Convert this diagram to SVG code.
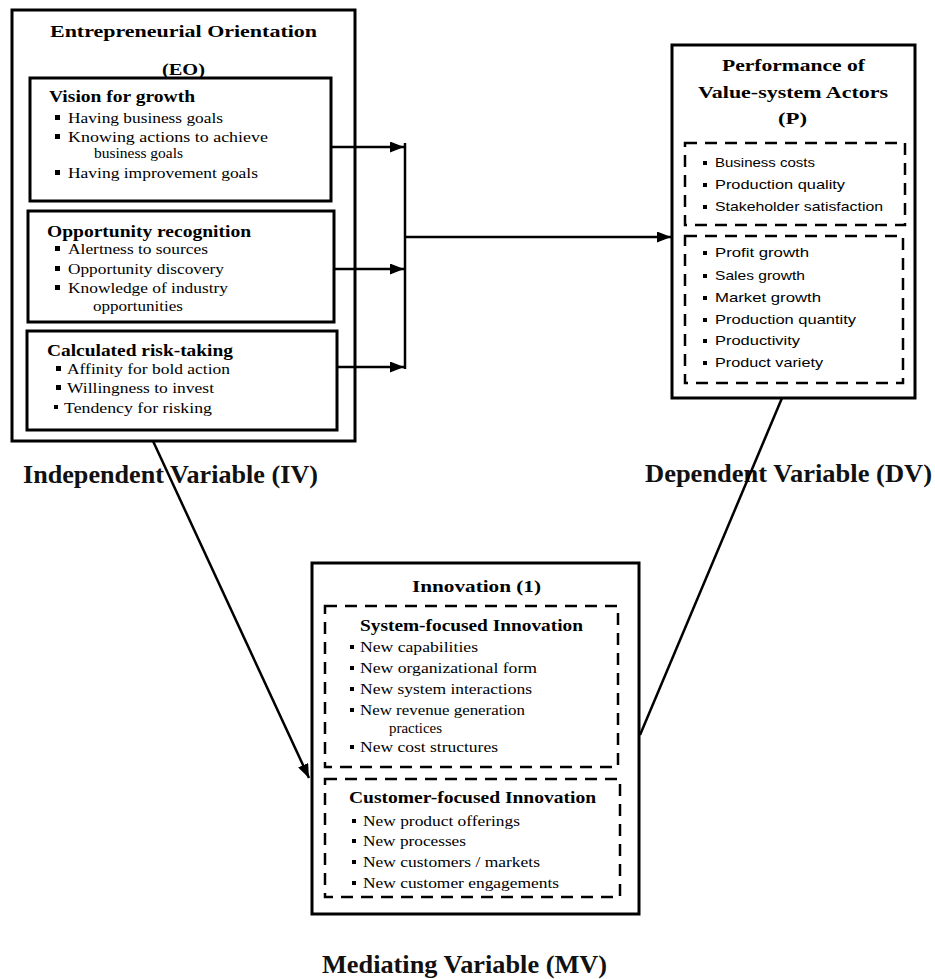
<svg xmlns="http://www.w3.org/2000/svg" width="935" height="979" viewBox="0 0 935 979">
<defs>
<style>
.box{fill:#fff;stroke:#000;stroke-width:3}
.dash{fill:none;stroke:#000;stroke-width:2.5;stroke-dasharray:12 8}
.h{font-family:"Liberation Serif",serif;font-weight:bold;font-size:16px;fill:#000}
.b{font-family:"Liberation Serif",serif;font-size:14px;fill:#000}
.s{font-family:"Liberation Sans",sans-serif;font-size:13px;fill:#000}
.lbl{font-family:"Liberation Serif",serif;font-weight:bold;font-size:26px;fill:#111}
.conn{stroke:#000;stroke-width:2.5;fill:none}
.blt{fill:#000}
</style>
<marker id="arr" markerUnits="userSpaceOnUse" markerWidth="15" markerHeight="11" refX="14" refY="5.5" orient="auto">
<path d="M0,0 L14,5.5 L0,11 z" fill="#000"/>
</marker>
</defs>
<rect width="935" height="979" fill="#fff"/>

<g id="node-eo">
<rect class="box" x="12" y="10" width="343" height="431"/>
<text class="h" x="50" y="37" textLength="267" lengthAdjust="spacingAndGlyphs">Entrepreneurial Orientation</text>
<text class="h" x="162" y="75" textLength="43" lengthAdjust="spacingAndGlyphs">(EO)</text>
</g>

<g id="node-vision">
<rect class="box" x="30" y="78" width="301" height="123"/>
<text class="h" x="49" y="102" textLength="146" lengthAdjust="spacingAndGlyphs">Vision for growth</text>
<rect class="blt" x="55" y="115" width="5" height="5"/>
<text class="b" x="68" y="123" textLength="155" lengthAdjust="spacingAndGlyphs">Having business goals</text>
<rect class="blt" x="55" y="134" width="5" height="5"/>
<text class="b" x="68" y="142" textLength="200" lengthAdjust="spacingAndGlyphs">Knowing actions to achieve</text>
<text class="b" x="94" y="158" textLength="89" lengthAdjust="spacingAndGlyphs">business goals</text>
<rect class="blt" x="55" y="170" width="5" height="5"/>
<text class="b" x="68" y="178" textLength="190" lengthAdjust="spacingAndGlyphs">Having improvement goals</text>
</g>

<g id="node-opportunity">
<rect class="box" x="28" y="211" width="306" height="111"/>
<text class="h" x="47" y="237" textLength="204" lengthAdjust="spacingAndGlyphs">Opportunity recognition</text>
<rect class="blt" x="55" y="246" width="5" height="5"/>
<text class="b" x="68" y="254" textLength="140" lengthAdjust="spacingAndGlyphs">Alertness to sources</text>
<rect class="blt" x="55" y="266" width="5" height="5"/>
<text class="b" x="68" y="274" textLength="156" lengthAdjust="spacingAndGlyphs">Opportunity discovery</text>
<rect class="blt" x="55" y="285" width="5" height="5"/>
<text class="b" x="68" y="293" textLength="160" lengthAdjust="spacingAndGlyphs">Knowledge of industry</text>
<text class="b" x="93" y="311" textLength="90" lengthAdjust="spacingAndGlyphs">opportunities</text>
</g>

<g id="node-risk">
<rect class="box" x="27" y="331" width="310" height="99"/>
<text class="h" x="47" y="356" textLength="186" lengthAdjust="spacingAndGlyphs">Calculated risk-taking</text>
<rect class="blt" x="56" y="366" width="5" height="5"/>
<text class="b" x="67" y="374" textLength="163" lengthAdjust="spacingAndGlyphs">Affinity for bold action</text>
<rect class="blt" x="56" y="385" width="5" height="5"/>
<text class="b" x="67" y="393" textLength="147" lengthAdjust="spacingAndGlyphs">Willingness to invest</text>
<rect class="blt" x="54" y="405" width="4" height="4"/>
<text class="b" x="64" y="413" textLength="148" lengthAdjust="spacingAndGlyphs">Tendency for risking</text>
</g>

<g id="node-p">
<rect class="box" x="672" y="45" width="243" height="353"/>
<text class="h" x="722" y="71" textLength="143" lengthAdjust="spacingAndGlyphs">Performance of</text>
<text class="h" x="698" y="98" textLength="190" lengthAdjust="spacingAndGlyphs">Value-system Actors</text>
<text class="h" x="778" y="124" textLength="29" lengthAdjust="spacingAndGlyphs">(P)</text>
<rect class="dash" x="685" y="143" width="220" height="82"/>
<rect class="blt" x="703" y="161" width="4" height="4"/>
<text class="s" x="715" y="167" textLength="100" lengthAdjust="spacingAndGlyphs">Business costs</text>
<rect class="blt" x="703" y="183" width="4" height="4"/>
<text class="s" x="715" y="189" textLength="130" lengthAdjust="spacingAndGlyphs">Production quality</text>
<rect class="blt" x="703" y="205" width="4" height="4"/>
<text class="s" x="715" y="211" textLength="168" lengthAdjust="spacingAndGlyphs">Stakeholder satisfaction</text>
<rect class="dash" x="685" y="236" width="218" height="147"/>
<rect class="blt" x="703" y="251" width="4" height="4"/>
<text class="s" x="715" y="257" textLength="94" lengthAdjust="spacingAndGlyphs">Profit growth</text>
<rect class="blt" x="703" y="274" width="4" height="4"/>
<text class="s" x="715" y="280" textLength="90" lengthAdjust="spacingAndGlyphs">Sales growth</text>
<rect class="blt" x="703" y="296" width="4" height="4"/>
<text class="s" x="715" y="302" textLength="106" lengthAdjust="spacingAndGlyphs">Market growth</text>
<rect class="blt" x="703" y="318" width="4" height="4"/>
<text class="s" x="715" y="324" textLength="141" lengthAdjust="spacingAndGlyphs">Production quantity</text>
<rect class="blt" x="703" y="339" width="4" height="4"/>
<text class="s" x="715" y="345" textLength="85" lengthAdjust="spacingAndGlyphs">Productivity</text>
<rect class="blt" x="703" y="361" width="4" height="4"/>
<text class="s" x="715" y="367" textLength="108" lengthAdjust="spacingAndGlyphs">Product variety</text>
</g>

<g id="node-i">
<rect class="box" x="312" y="563" width="327" height="351"/>
<text class="h" x="412" y="592" textLength="129" lengthAdjust="spacingAndGlyphs">Innovation (1)</text>
<rect class="dash" x="325" y="606" width="293" height="161"/>
<text class="h" x="360" y="631" textLength="223" lengthAdjust="spacingAndGlyphs">System-focused Innovation</text>
<rect class="blt" x="350" y="645" width="4" height="4"/>
<text class="b" x="360" y="652" textLength="118" lengthAdjust="spacingAndGlyphs">New capabilities</text>
<rect class="blt" x="350" y="666" width="4" height="4"/>
<text class="b" x="360" y="673" textLength="177" lengthAdjust="spacingAndGlyphs">New organizational form</text>
<rect class="blt" x="350" y="687" width="4" height="4"/>
<text class="b" x="360" y="694" textLength="172" lengthAdjust="spacingAndGlyphs">New system interactions</text>
<rect class="blt" x="350" y="708" width="4" height="4"/>
<text class="b" x="360" y="715" textLength="165" lengthAdjust="spacingAndGlyphs">New revenue generation</text>
<text class="b" x="389" y="733" textLength="53" lengthAdjust="spacingAndGlyphs">practices</text>
<rect class="blt" x="350" y="745" width="4" height="4"/>
<text class="b" x="360" y="752" textLength="138" lengthAdjust="spacingAndGlyphs">New cost structures</text>
<rect class="dash" x="325" y="779" width="295" height="118"/>
<text class="h" x="349" y="803" textLength="247" lengthAdjust="spacingAndGlyphs">Customer-focused Innovation</text>
<rect class="blt" x="352" y="819" width="4" height="4"/>
<text class="b" x="363" y="826" textLength="157" lengthAdjust="spacingAndGlyphs">New product offerings</text>
<rect class="blt" x="352" y="839" width="4" height="4"/>
<text class="b" x="363" y="846" textLength="103" lengthAdjust="spacingAndGlyphs">New processes</text>
<rect class="blt" x="352" y="860" width="4" height="4"/>
<text class="b" x="363" y="867" textLength="177" lengthAdjust="spacingAndGlyphs">New customers / markets</text>
<rect class="blt" x="352" y="881" width="4" height="4"/>
<text class="b" x="363" y="888" textLength="196" lengthAdjust="spacingAndGlyphs">New customer engagements</text>
</g>

<g id="labels">
<text class="lbl" x="23" y="483" textLength="295" lengthAdjust="spacingAndGlyphs">Independent Variable (IV)</text>
<text class="lbl" x="645" y="482" textLength="287" lengthAdjust="spacingAndGlyphs">Dependent Variable (DV)</text>
<text class="lbl" x="322" y="973" textLength="285" lengthAdjust="spacingAndGlyphs">Mediating Variable (MV)</text>
</g>

<g id="connectors">
<line class="conn" x1="331" y1="147" x2="404" y2="147" marker-end="url(#arr)"/>
<line class="conn" x1="334" y1="269" x2="404" y2="269" marker-end="url(#arr)"/>
<line class="conn" x1="337" y1="367" x2="404" y2="367" marker-end="url(#arr)"/>
<line class="conn" x1="405" y1="143" x2="405" y2="369"/>
<line class="conn" x1="405" y1="237" x2="671" y2="237" marker-end="url(#arr)"/>
<line class="conn" x1="153" y1="441" x2="309" y2="778" marker-end="url(#arr)"/>
<line class="conn" x1="782" y1="398" x2="640" y2="735"/>
</g>
</svg>
